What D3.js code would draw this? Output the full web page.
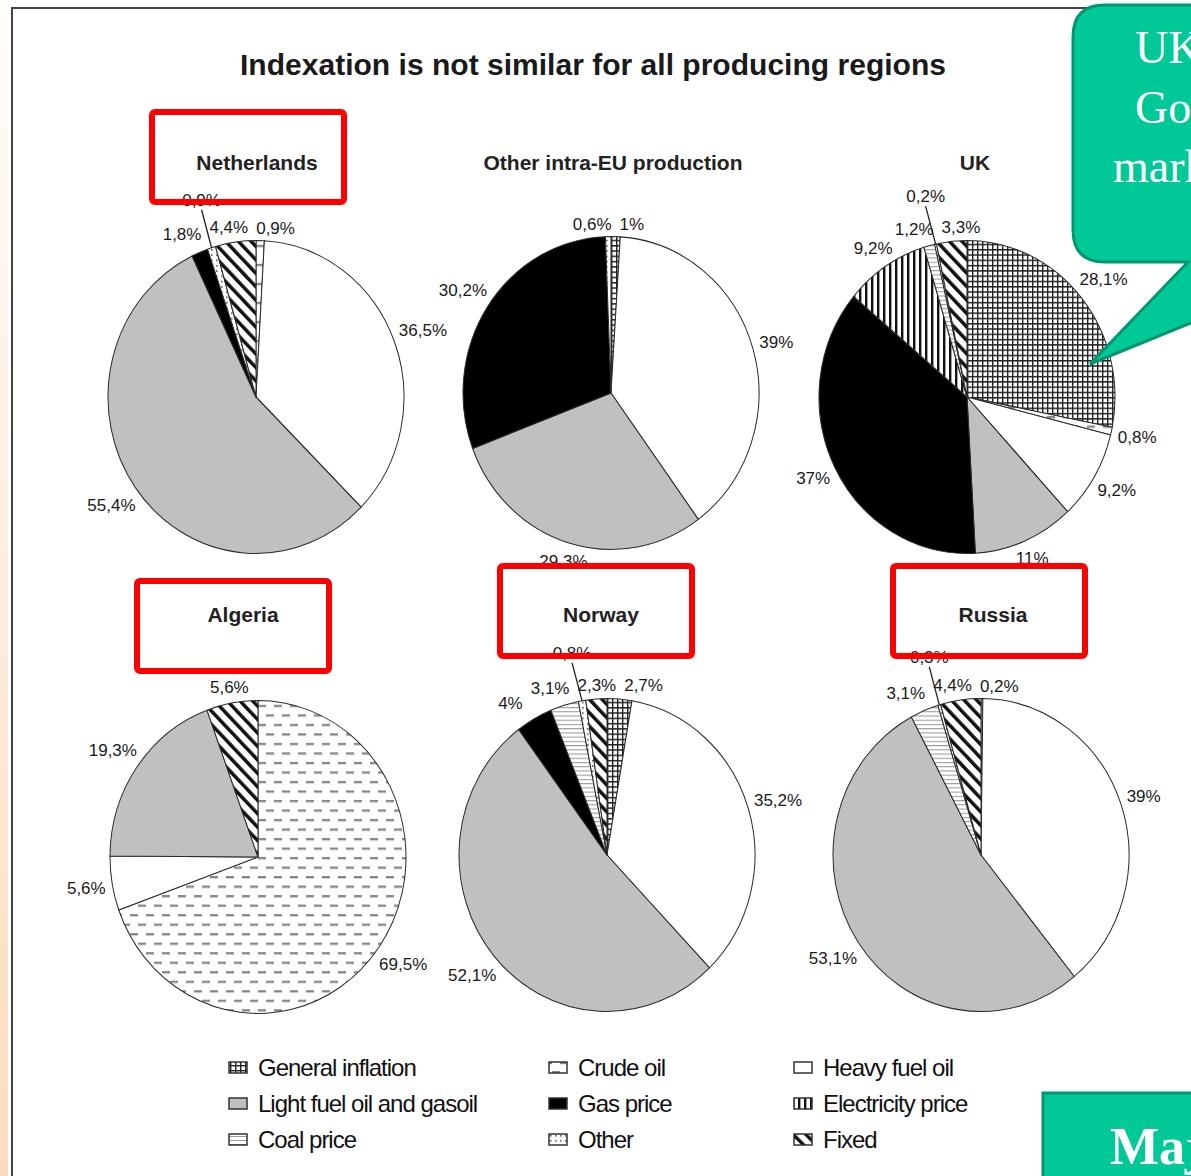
<!DOCTYPE html>
<html>
<head>
<meta charset="utf-8">
<script src="https://cdn.jsdelivr.net/npm/d3@7"></script>
<style>
  body { margin: 0; background: #fff; }
  svg { display: block; font-family: "Liberation Sans", Arial, sans-serif; }
</style>
</head>
<body>
<svg id="chart" width="1191" height="1176"></svg>
<script>
// legend order of the indexation categories
var categories = ["General inflation", "Crude oil", "Heavy fuel oil",
  "Light fuel oil and gasoil", "Gas price", "Electricity price",
  "Coal price", "Other", "Fixed"];

var regions = ["Netherlands", "Other intra-EU production", "UK", "Algeria", "Norway", "Russia"];

// slices clockwise from 12 o'clock, shares in %
var netherlandsCats = ["Crude oil", "Heavy fuel oil", "Light fuel oil and gasoil", "Gas price", "Other", "Fixed"];
var netherlandsVals = [0.9, 36.5, 55.4, 1.8, 0.9, 4.4];

var otherEuCats = ["General inflation", "Heavy fuel oil", "Light fuel oil and gasoil", "Gas price", "Other"];
var otherEuVals = [1, 39, 29.3, 30.2, 0.6];

var ukCats = ["General inflation", "Crude oil", "Heavy fuel oil", "Light fuel oil and gasoil", "Gas price",
  "Electricity price", "Coal price", "Other", "Fixed"];
var ukVals = [28.1, 0.8, 9.2, 11, 37, 9.2, 1.2, 0.2, 3.3];

var algeriaCats = ["Crude oil", "Heavy fuel oil", "Light fuel oil and gasoil", "Fixed"];
var algeriaVals = [69.5, 5.6, 19.3, 5.6];

var norwayCats = ["General inflation", "Heavy fuel oil", "Light fuel oil and gasoil", "Gas price", "Coal price", "Other", "Fixed"];
var norwayVals = [2.7, 35.2, 52.1, 4, 3.1, 0.8, 2.3];

var russiaCats = ["Crude oil", "Heavy fuel oil", "Light fuel oil and gasoil", "Coal price", "Other", "Fixed"];
var russiaVals = [0.2, 39, 53.1, 3.1, 0.3, 4.4];

var regionCats = [netherlandsCats, otherEuCats, ukCats, algeriaCats, norwayCats, russiaCats];
var regionVals = [netherlandsVals, otherEuVals, ukVals, algeriaVals, norwayVals, russiaVals];

// regions framed in red on the slide
var highlighted = ["Netherlands", "Algeria", "Norway", "Russia"];

// ---- layout ----
var svg = d3.select("#chart");
const width = +svg.attr("width");
const height = +svg.attr("height");

var pieCenters = [[256, 397], [611, 393], [967, 397], [258, 857], [607, 855], [981, 855]];
var titlePos = [[257, 170], [613, 170], [975, 170], [243, 622], [601, 622], [993, 622]];
var boxShift = {"Netherlands": [-9, -6], "Algeria": [-10, 11], "Norway": [-5, -4], "Russia": [-4, -4]};
const r = 148;
const k = 1.057;       // the slide stretches the picture a little in height
const labelH = 13;
const gap = 6;

var fmt = (v) => String(v).replace(".", ",") + "%";

var defs = svg.append("defs");

// left slide strip
var strip = defs.append("linearGradient").attr("id", "strip")
  .attr("x1", 0).attr("y1", 0).attr("x2", 0).attr("y2", 1);
strip.append("stop").attr("offset", "0%").attr("stop-color", "#fffdfb");
strip.append("stop").attr("offset", "100%").attr("stop-color", "#fddcbd");
svg.append("rect").attr("width", width).attr("height", height).attr("fill", "#fff");
svg.append("rect").attr("x", 0).attr("y", 0).attr("width", 8).attr("height", height).attr("fill", "url(#strip)");

// chart frame
svg.append("rect")
  .attr("x", 12).attr("y", 8).attr("width", 1400).attr("height", 1400)
  .attr("fill", "#fff").attr("stroke", "#444").attr("stroke-width", 2);

// ---- patterns ----
var makePattern = (id, w, h, bg, rects, transform) => {
  var p = defs.append("pattern").attr("id", id)
    .attr("patternUnits", "userSpaceOnUse").attr("width", w).attr("height", h);
  if (transform) p.attr("patternTransform", transform);
  p.append("rect").attr("width", w).attr("height", h).attr("fill", bg);
  rects.forEach(function (q) {
    p.append("rect").attr("x", q[0]).attr("y", q[1]).attr("width", q[2]).attr("height", q[3]).attr("fill", q[4]);
  });
}
makePattern("p-grid", 5, 5, "#fff", [[0, 0, 5, 1.4, "#222"], [0, 0, 1.4, 5, "#222"]]);
makePattern("p-dash", 16, 18, "#fff", [[0, 0, 8, 2.2, "#888"], [8, 9, 8, 2.2, "#888"]]);
makePattern("p-vert", 6, 6, "#fff", [[0, 0, 2.4, 6, "#111"]]);
makePattern("p-horiz", 4, 4, "#fff", [[0, 0, 4, 1, "#9a9a9a"]]);
makePattern("p-dots", 5, 5, "#fff", [[0, 0, 1.6, 1.6, "#666"]]);
makePattern("p-hatch", 9, 9, "#fff", [[0, 0, 3.4, 9, "#111"]], "rotate(-45)");

var fills = {
  "General inflation": "url(#p-grid)",
  "Crude oil": "url(#p-dash)",
  "Heavy fuel oil": "#ffffff",
  "Light fuel oil and gasoil": "#c0c0c0",
  "Gas price": "#000000",
  "Electricity price": "url(#p-vert)",
  "Coal price": "url(#p-horiz)",
  "Other": "url(#p-dots)",
  "Fixed": "url(#p-hatch)"
};

// ---- title ----
svg.append("text")
  .attr("x", 593).attr("y", 75)
  .attr("text-anchor", "middle")
  .attr("font-size", 30).attr("font-weight", "bold").attr("fill", "#1a1a1a")
  .attr("textLength", 706).attr("lengthAdjust", "spacingAndGlyphs")
  .text("Indexation is not similar for all producing regions");

// text width helper
var measurer = svg.append("text").attr("font-size", 17).attr("opacity", 0);
var measure = (t) => { measurer.text(t); return measurer.node().getComputedTextLength(); };

var pie = d3.pie().sort(null).value(d => d.v);
var arc = d3.arc().innerRadius(0).outerRadius(r);

// outside-end labels, tiny slices squeezed between small ones get a leader line
var placeLabels = (arcs) => {
  var n = arcs.length;
  var labels = arcs.map(function (d, i) {
    var a = (d.startAngle + d.endAngle) / 2;
    var sx = Math.sin(a), sy = -Math.cos(a);
    var ex = r * sx, ey = r * sy * k;
    var txt = fmt(d.data.v);
    var w = measure(txt);
    var prev = arcs[(i - 1 + n) % n].data.v, next = arcs[(i + 1) % n].data.v;
    var lifted = d.data.v < 1 && prev < 5 && next < 5;
    var lab = { txt: txt, w: w, ex: ex, ey: ey, lifted: lifted };
    if (lifted) {
      lab.x = ex - 10; lab.y = ey - 48;
    } else {
      var ext = w / 2 * Math.abs(sx) + labelH / 2 * Math.abs(sy);
      lab.x = ex + (gap + ext) * sx;
      lab.y = ey + (gap + ext) * sy;
    }
    return lab;
  });
  var free = labels.filter(l => !l.lifted);
  for (var it = 0; it < 40; it++) {
    free.forEach(function (p, i) {
      free.forEach(function (q, j) {
        if (j <= i) return;
        var need = (p.w + q.w) / 2 + 8;
        if (Math.abs(p.y - q.y) < labelH + 4 && Math.abs(p.x - q.x) < need) {
          var push = (need - Math.abs(p.x - q.x)) / 2;
          var s = p.x <= q.x ? 1 : -1;
          p.x -= s * push; q.x += s * push;
        }
      });
    });
  }
  return labels;
}

regions.forEach(function (name, ri) {
  var data = regionCats[ri].map((c, i) => ({ c: c, v: regionVals[ri][i] }));
  var arcs = pie(data);
  var cx = pieCenters[ri][0], cy = pieCenters[ri][1];

  var g = svg.append("g").attr("transform", "translate(" + cx + "," + cy + ")");
  g.append("g").attr("transform", "scale(1," + k + ")")
    .selectAll("path").data(arcs).join("path")
    .attr("d", arc)
    .attr("fill", d => fills[d.data.c])
    .attr("stroke", "#2a2a2a").attr("stroke-width", 1)
    .attr("stroke-linejoin", "round");

  var labels = placeLabels(arcs);
  labels.filter(l => l.lifted).forEach(function (l) {
    g.append("line")
      .attr("x1", l.x).attr("y1", l.y + 10)
      .attr("x2", l.ex).attr("y2", l.ey)
      .attr("stroke", "#222").attr("stroke-width", 1.3);
  });
  g.selectAll("text.pct").data(labels).join("text")
    .attr("class", "pct")
    .attr("x", d => d.x).attr("y", d => d.y + 6)
    .attr("text-anchor", "middle")
    .attr("font-size", 17).attr("fill", "#1a1a1a")
    .text(d => d.txt);

  svg.append("text")
    .attr("x", titlePos[ri][0]).attr("y", titlePos[ri][1])
    .attr("text-anchor", "middle")
    .attr("font-size", 21).attr("font-weight", "bold").attr("fill", "#222")
    .text(name);
});

// ---- legend ----
var legendX = [229, 549, 794];
var legendY = [1068, 1104, 1140];
var legend = svg.append("g");
categories.forEach(function (c, i) {
  var x = legendX[i % 3], y = legendY[Math.floor(i / 3)];
  legend.append("rect")
    .attr("x", x).attr("y", y - 6).attr("width", 18).attr("height", 11)
    .attr("fill", fills[c]).attr("stroke", "#333").attr("stroke-width", 1.5);
  legend.append("text")
    .attr("x", x + 29).attr("y", y + 8)
    .attr("font-size", 24).attr("letter-spacing", -1).attr("fill", "#111")
    .text(c);
});

// ---- red highlight frames ----
highlighted.forEach(function (name) {
  var ri = regions.indexOf(name);
  var s = boxShift[name];
  var bx = titlePos[ri][0] + s[0], by = titlePos[ri][1] - 7 + s[1];
  svg.append("rect")
    .attr("x", bx - 96).attr("y", by - 45).attr("width", 192).attr("height", 90)
    .attr("rx", 3)
    .attr("fill", "none").attr("stroke", "#ff0000").attr("stroke-width", 6);
});

// ---- slide callouts ----
svg.append("path")
  .attr("d", "M1105,5 L1400,5 L1400,262 L1341,262 L1090,364 L1188,262 L1105,262 Q1073,262 1073,230 L1073,37 Q1073,5 1105,5 Z")
  .attr("fill", "#00c896").attr("stroke", "#00966e").attr("stroke-width", 3);
var calloutLines = [["UK gas", 1135, 63], ["Government", 1135, 123], ["market", 1113, 182]];
calloutLines.forEach(function (l) {
  svg.append("text")
    .attr("x", l[1]).attr("y", l[2])
    .attr("font-family", "'Liberation Serif', 'Times New Roman', serif")
    .attr("font-size", 46).attr("fill", "#fff")
    .text(l[0]);
});

svg.append("rect")
  .attr("x", 1043).attr("y", 1093).attr("width", 300).attr("height", 200)
  .attr("fill", "#00c896").attr("stroke", "#00966e").attr("stroke-width", 3);
svg.append("text")
  .attr("x", 1110).attr("y", 1164)
  .attr("font-family", "'Liberation Serif', 'Times New Roman', serif")
  .attr("font-size", 52).attr("font-weight", "bold").attr("fill", "#fff")
  .text("Major");
</script>
</body>
</html>
